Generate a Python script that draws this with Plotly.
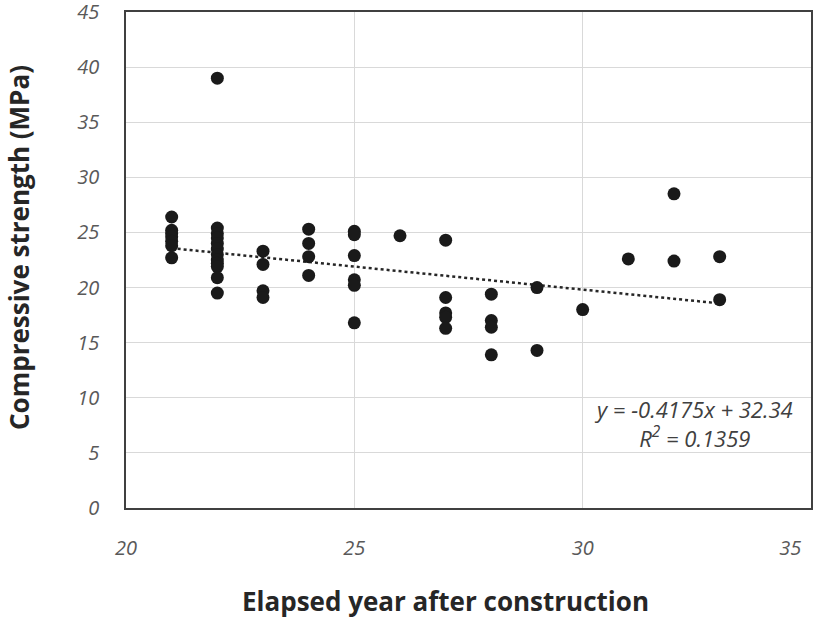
import plotly.graph_objects as go

# Elapsed years (x) and compressive strength (y, MPa)
years = ([21]*7 + [22]*12 + [23]*4 + [24]*4 + [25]*6 + [26] + [27]*5 +
         [28]*4 + [29]*2 + [30] + [31] + [32]*2 + [33]*2)
strength = [26.4, 25.2, 24.9, 24.6, 24.2, 23.8, 22.7,
            39.0, 25.4, 24.9, 24.5, 24.0, 23.5, 23.0, 22.5, 22.2, 21.9, 20.9, 19.5,
            23.3, 22.1, 19.7, 19.1,
            25.3, 24.0, 22.8, 21.1,
            25.1, 24.8, 22.9, 20.7, 20.2, 16.8,
            24.7,
            24.3, 19.1, 17.7, 17.3, 16.3,
            19.4, 17.0, 16.4, 13.9,
            20.0, 14.3,
            18.0,
            22.6,
            28.5, 22.4,
            22.8, 18.9]

# Linear trendline reported on the chart
slope = -0.4175
intercept = 32.34
r_squared = 0.1359
trend_x = [min(years), max(years)]
trend_y = [slope * v + intercept for v in trend_x]

x_ticks = [20, 25, 30, 35]
x_tick_labels = ["20", "25", "30", "35" + "\u00a0" * 8]
y_ticks = [0, 5, 10, 15, 20, 25, 30, 35, 40, 45]
y_tick_labels = [str(v) for v in y_ticks]

FONT = "'Open Sans', Lato, sans-serif"
tick_font = dict(family=FONT, size=20, color="#595959", style="italic")

fig = go.Figure()
fig.add_trace(go.Scatter(
    x=trend_x, y=trend_y, mode="lines",
    line=dict(color="#262626", width=2.5, dash="dot"),
    showlegend=False, hoverinfo="skip"))
fig.add_trace(go.Scatter(
    x=years, y=strength, mode="markers",
    marker=dict(color="#1a1a1a", size=13, line=dict(width=0)),
    showlegend=False))

L, R, T, B = 126, 811, 12, 508
fig.update_layout(
    width=827, height=620,
    margin=dict(l=L, r=827 - R, t=T, b=620 - B),
    paper_bgcolor="white", plot_bgcolor="white",
    xaxis=dict(range=[20, 35], tickvals=x_ticks, ticktext=x_tick_labels,
               showgrid=True, gridcolor="#d9d9d9", gridwidth=1,
               showline=True, linecolor="#404040", linewidth=1.5, mirror=True,
               zeroline=False, ticks="", ticklabelstandoff=21, automargin=False,
               ticklabeloverflow="allow", tickfont=tick_font),
    yaxis=dict(range=[0, 45], tickvals=y_ticks, ticktext=y_tick_labels,
               showgrid=True, gridcolor="#d9d9d9", gridwidth=1,
               showline=True, linecolor="#404040", linewidth=1.5, mirror=True,
               zeroline=False, ticks="", ticklabelstandoff=21, automargin=False,
               ticklabeloverflow="allow", tickfont=tick_font),
    font=dict(family=FONT),
)

W, H = R - L, B - T
fig.add_annotation(
    xref="paper", yref="paper", x=(445 - L) / W, y=(B - 601) / H,
    text="<b>Elapsed year after construction</b>", showarrow=False,
    font=dict(size=26, color="#262626", family=FONT),
    xanchor="center", yanchor="middle")
fig.add_annotation(
    xref="paper", yref="paper", x=(19 - L) / W, y=(B - 248) / H,
    text="<b>Compressive strength (MPa)</b>", showarrow=False, textangle=-90,
    font=dict(size=26, color="#262626", family=FONT),
    xanchor="center", yanchor="middle")
fig.add_annotation(
    xref="paper", yref="paper", x=(693 - L) / W, y=(B - 423) / H,
    text=f"<i>y = {slope}x + {intercept}<br>R<sup>2</sup> = {r_squared}</i>",
    showarrow=False, align="center",
    font=dict(size=22, color="#404040", family=FONT),
    xanchor="center", yanchor="middle")

fig.write_html("out.html",
               config={"displayModeBar": False},
               post_script="document.body.style.margin='0';document.body.style.overflow='hidden';")
